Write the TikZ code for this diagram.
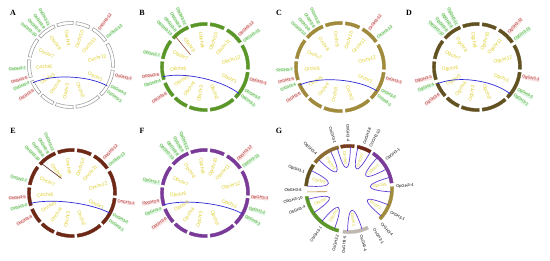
\documentclass[tikz,border=0pt]{standalone}
\usepackage{fontspec}
\setmainfont{Liberation Sans}
\newfontfamily\letterfont{Liberation Serif}
\definecolor{labgreen}{RGB}{80,165,40}
\definecolor{labgreenbg}{RGB}{220,246,226}
\definecolor{labred}{RGB}{170,40,40}
\definecolor{labredbg}{RGB}{250,226,226}
\definecolor{chryellow}{RGB}{222,206,40}
\definecolor{linkblue}{RGB}{45,40,215}
\definecolor{glinkblue}{RGB}{100,62,210}
\definecolor{ringgray}{RGB}{150,150,150}
\definecolor{ringlight}{RGB}{190,184,176}
\definecolor{ringgreen}{RGB}{90,150,40}
\definecolor{ringgold}{RGB}{160,138,60}
\definecolor{ringolive}{RGB}{98,82,34}
\definecolor{ringbrown}{RGB}{110,40,22}
\definecolor{ringbrowntwo}{RGB}{120,60,30}
\definecolor{ringoch}{RGB}{140,108,48}
\definecolor{ringpurple}{RGB}{122,58,152}
\definecolor{tandem}{RGB}{150,80,50}
\definecolor{orangelink}{RGB}{190,120,50}

\tikzset{
  glab/.style={font=\fontsize{4}{4}\selectfont, inner sep=0.2pt, text=labgreen, fill=labgreenbg},
  rlab/.style={font=\fontsize{4}{4}\selectfont, inner sep=0.2pt, text=labred, fill=labredbg},
  klab/.style={font=\fontsize{4}{4}\selectfont, inner sep=0.2pt, text=black},
  clab/.style={font=\fontsize{5}{5}\selectfont, inner sep=0pt, text=chryellow},
  gclab/.style={font=\fontsize{4.2}{4.2}\selectfont, inner sep=0pt, text=chryellow},
  bluelink/.style={draw=linkblue, line width=0.7pt},
  glink/.style={draw=glinkblue, line width=0.7pt},
  tandemlink/.style={draw=tandem, line width=0.6pt},
  panellabel/.style={font=\letterfont\bfseries\fontsize{8}{8}\selectfont, inner sep=0pt},
}

\newcommand\outlabel[5]{%
  \pgfmathsetmacro\olc{cos(#2)}%
  \ifdim\olc pt<0pt
    \pgfmathsetmacro\olr{#2+180}%
    \node[#1,anchor=east,rotate=\olr] (#5) at (#2:#3) {#4};
  \else
    \node[#1,anchor=west,rotate=#2] (#5) at (#2:#3) {#4};
  \fi}
\newcommand\inlabel[5]{%
  \pgfmathsetmacro\ilc{cos(#2)}%
  \ifdim\ilc pt<0pt \pgfmathsetmacro\ilr{#2+180}\else \pgfmathsetmacro\ilr{#2}\fi
  \node[#1,rotate=\ilr] (#5) at (#2:#3) {#4};}
\newcommand\segring[3]{%
  \pgfmathsetmacro\sro{#2+1.6}\pgfmathsetmacro\sri{#2-1.6}%
  \foreach \sa/\sb in #3{%
    \draw[#1] (\sa:\sro) arc[start angle=\sa, end angle=\sb, radius=\sro] -- (\sb:\sri) arc[start angle=\sb, end angle=\sa, radius=\sri] -- cycle;}}
\newcommand\chrsegs{-7/-45, -49/-83, -87/-111, -115/-134, -138/-158, -163/-187, -191/-217, -222/-247, -251/-273, -277/-296, -301/-325, -330/-363}
\newcommand\chrlabs{-25/1, -69/2, -101/3, -126/4, -150/5, -176/6, -205/7, -235/8, -263/9, -288/10, -312/11, -345/12}

\begin{document}
\begin{tikzpicture}[x=1pt,y=1pt]
\useasboundingbox (0,0) rectangle (550,261);
\fill[white] (0,0) rectangle (550,261);

% panel letters
\node[panellabel] (pA) at (13,248) {A};
\node[panellabel] (pB) at (142,248) {B};
\node[panellabel] (pC) at (279,248) {C};
\node[panellabel] (pD) at (409,248) {D};
\node[panellabel] (pE) at (13,130) {E};
\node[panellabel] (pF) at (142,130) {F};
\node[panellabel] (pG) at (279,130) {G};

% ---------------- A
\begin{scope}[shift={(71,196)}]
  \segring{draw=ringgray, fill=white, line width=0.5pt}{42}{\chrsegs}
  \foreach \ang/\num in \chrlabs {\inlabel{clab}{\ang}{27}{Oschr\num}{A-chr\num}}
  \foreach \ang/\txt/\sty [count=\i] in {52/OsGH3-12/rlab, 38/OsGH3-13/glab, -13/OsGH3-3/rlab, -28/OsGH3-2/glab, -36/OsGH3-1/glab, 119/OsGH3-11/glab, 126/OsGH3-9/glab, 133/OsGH3-8/glab, 140/OsGH3-10/glab, 184/OsGH3-7/glab, 196/OsGH3-5/rlab, 203/OsGH3-4/glab, 214/OsGH3-6/rlab}
    {\outlabel{\sty}{\ang}{45}{\txt}{A-g\i}}
  \coordinate (A-l1) at (205:42);
  \coordinate (A-l2) at (-30:42);
  \draw[bluelink] (A-l1) .. controls (205:21) and (-30:21) .. (A-l2);
\end{scope}

% ---------------- B
\begin{scope}[shift={(205,194)}]
  \segring{draw=ringgreen, fill=ringgreen, line width=0.3pt}{43}{\chrsegs}
  \foreach \ang/\num in \chrlabs {\inlabel{clab}{\ang}{27}{Obchr\num}{B-chr\num}}
  \foreach \ang/\txt/\sty [count=\i] in {43/ObGH3-12/rlab, 34/ObGH3-13/glab, -15/ObGH3-3/rlab, -30/ObGH3-2/glab, -38/ObGH3-1/glab, 115/ObGH3-11/glab, 122/ObGH3-9/glab, 129/ObGH3-8/glab, 136/ObGH3-10/glab, 166/ObGH3-7/glab, 189/ObGH3-5/rlab, 197/ObGH3-4/glab, 214/ObGH3-6/rlab}
    {\outlabel{\sty}{\ang}{46}{\txt}{B-g\i}}
  \coordinate (B-l1) at (193:43);
  \coordinate (B-l2) at (-38:43);
  \draw[bluelink] (B-l1) .. controls (193:21) and (-38:21) .. (B-l2);
  \coordinate (B-t1) at (134:43);
  \coordinate (B-t2) at (140:19);
  \draw[tandemlink] (B-t1) -- (B-t2);
\end{scope}

% ---------------- C
\begin{scope}[shift={(340,194)}]
  \segring{draw=ringgold, fill=ringgold, line width=0.3pt}{44}{\chrsegs}
  \foreach \ang/\num in \chrlabs {\inlabel{clab}{\ang}{28}{Orchr\num}{C-chr\num}}
  \foreach \ang/\txt/\sty [count=\i] in {52/OrGH3-12/rlab, 38/OrGH3-13/glab, -14/OrGH3-3/rlab, -29/OrGH3-2/glab, -37/OrGH3-1/glab, 116/OrGH3-11/glab, 123/OrGH3-9/glab, 130/OrGH3-8/glab, 137/OrGH3-10/glab, 183/OrGH3-7/glab, 194/OrGH3-5/rlab, 201/OrGH3-4/glab, 213/OrGH3-6/rlab}
    {\outlabel{\sty}{\ang}{47}{\txt}{C-g\i}}
  \coordinate (C-l1) at (204:44);
  \coordinate (C-l2) at (-33:44);
  \draw[bluelink] (C-l1) .. controls (204:22) and (-33:22) .. (C-l2);
\end{scope}

% ---------------- D
\begin{scope}[shift={(477,194)}]
  \segring{draw=ringolive, fill=ringolive, line width=0.3pt}{43}{\chrsegs}
  \foreach \ang/\num in \chrlabs {\inlabel{clab}{\ang}{27}{Ogchr\num}{D-chr\num}}
  \foreach \ang/\txt/\sty [count=\i] in {47/OgGH3-12/rlab, 36/OgGH3-13/glab, -12/OgGH3-3/rlab, -29/OgGH3-2/glab, -37/OgGH3-1/glab, 116/OgGH3-11/glab, 123/OgGH3-9/glab, 130/OgGH3-8/glab, 137/OgGH3-10/glab, 193/OgGH3-5/rlab, 202/OgGH3-4/glab, 216/OgGH3-6/rlab}
    {\outlabel{\sty}{\ang}{46}{\txt}{D-g\i}}
  \coordinate (D-l1) at (203:43);
  \coordinate (D-l2) at (-39:43);
  \draw[bluelink] (D-l1) .. controls (203:21) and (-39:21) .. (D-l2);
\end{scope}

% ---------------- E
\begin{scope}[shift={(72,68)}]
  \segring{draw=ringbrown, fill=ringbrown, line width=0.3pt}{43}{\chrsegs}
  \foreach \ang/\num in \chrlabs {\inlabel{clab}{\ang}{27}{Onchr\num}{E-chr\num}}
  \foreach \ang/\txt/\sty [count=\i] in {47/OnGH3-12/rlab, 37/OnGH3-13/glab, -10/OnGH3-3/rlab, -28/OnGH3-2/glab, -36/OnGH3-1/glab, 114/OnGH3-11/glab, 121/OnGH3-9/glab, 128/OnGH3-8/glab, 135/OnGH3-10/glab, 165/OnGH3-7/glab, 185/OnGH3-5/rlab, 195/OnGH3-4/glab, 210/OnGH3-6/rlab}
    {\outlabel{\sty}{\ang}{46}{\txt}{E-g\i}}
  \coordinate (E-l1) at (194:43);
  \coordinate (E-l2) at (-28:43);
  \draw[bluelink] (E-l1) .. controls (194:21) and (-28:21) .. (E-l2);
  \coordinate (E-t1) at (136:43);
  \coordinate (E-t2) at (126:18);
  \draw[tandemlink, draw=ringbrown!80!black] (E-t1) -- (E-t2);
\end{scope}

% ---------------- F
\begin{scope}[shift={(205,68)}]
  \segring{draw=ringpurple, fill=ringpurple, line width=0.3pt}{43}{\chrsegs}
  \foreach \ang/\num in \chrlabs {\inlabel{clab}{\ang}{27}{Opchr\num}{F-chr\num}}
  \foreach \ang/\txt/\sty [count=\i] in {45/OpGH3-12/rlab, 35/OpGH3-13/glab, -5/OpGH3-3/rlab, -19/OpGH3-2/glab, -30/OpGH3-1/glab, 112/OpGH3-11/glab, 119/OpGH3-9/glab, 126/OpGH3-8/glab, 133/OpGH3-10/glab, 168/OpGH3-7/glab, 190/OpGH3-5/rlab, 200/OpGH3-4/glab, 214/OpGH3-6/rlab}
    {\outlabel{\sty}{\ang}{46}{\txt}{F-g\i}}
  \coordinate (F-l1) at (196:43);
  \coordinate (F-l2) at (-29:43);
  \draw[bluelink] (F-l1) .. controls (196:21) and (-29:21) .. (F-l2);
\end{scope}

% ---------------- G
\begin{scope}[shift={(349,72)}]
  \foreach \sa/\sb/\sc [count=\i] in {142/104/ringoch, 101/83/ringbrowntwo, 79/60/ringbrown, 56/8/ringpurple, 3/-44/ringgold, -64/-98/ringlight, -104/-170/ringgreen, 176/146/ringolive}
    {\draw[draw=\sc, fill=\sc, line width=0.3pt] (\sa:44.6) arc[start angle=\sa, end angle=\sb, radius=44.6] -- (\sb:41.4) arc[start angle=\sb, end angle=\sa, radius=41.4] -- cycle;}
  \foreach \ang/\txt [count=\i] in {107/OnGH3-1, 91/OnGH3-4, 71/OnGH3-8, 63/OnGH3-10, 38/OpGH3-1, 3/OpGH3-4, -29/OrGH3-1, -47/OrGH3-4, -58/OsGH3-1, -75/OsGH3-4, -95/OsGH3-5, -104/OsGH3-2, -126/ObGH3-1, -158/ObGH3-4, -169/ObGH3-10, -179/ObGH3-8, 160/OgGH3-1, 134/OgGH3-4}
    {\outlabel{klab}{\ang}{47}{\txt}{G-g\i}}
  \foreach \aa/\ab [count=\i] in {136/116, 106/88, 78/60, 48/28, 16/-4, -22/-40, -72/-92, -110/-130, -146/-166, 176/154}
    {\coordinate (G-a\i) at (\aa:42);
     \coordinate (G-b\i) at (\ab:42);
     \draw[glink] (G-a\i) .. controls (\aa:15) and (\ab:15) .. (G-b\i);}
  \foreach \ang/\txt [count=\i] in {126/Ogchr1, 97/Onchr1, 69/Onchr7, 38/Opchr1, 6/Opchr5, -31/Orchr1, -82/Oschr1, -120/Obchr1, -156/Obchr7, 165/Ogchr5}
    {\inlabel{gclab}{\ang}{31}{\txt}{G-chr\i}}
  \coordinate (G-o1) at (184:42);
  \coordinate (G-o2) at (187:22);
  \draw[draw=orangelink, line width=0.6pt] (G-o1) -- (G-o2);
\end{scope}
\end{tikzpicture}
\end{document}
